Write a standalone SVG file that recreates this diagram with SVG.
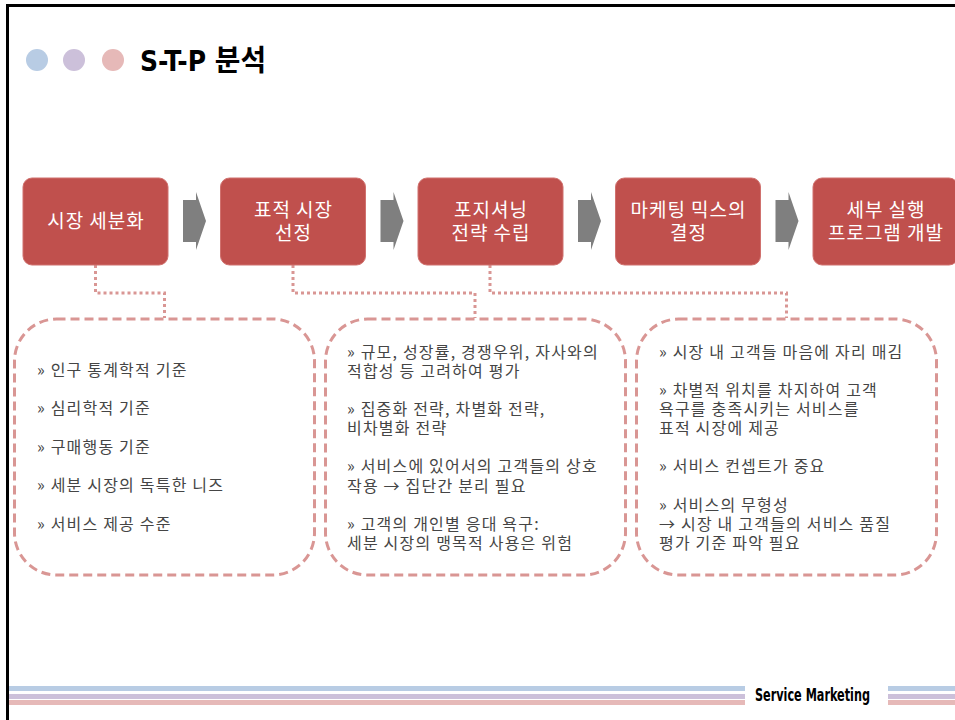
<svg xmlns="http://www.w3.org/2000/svg" width="955" height="720" viewBox="0 0 955 720">
<style>
.step{fill:#c0504d;stroke:#d0716e;stroke-width:1}
.st{font-family:"Noto Sans CJK KR","Noto Sans",sans-serif;font-size:19px;letter-spacing:1px;fill:#ffffff;text-anchor:middle}
.arr{fill:#7f7f7f}
.dbox{fill:none;stroke:#d99694;stroke-width:3;stroke-dasharray:9 5}
.dot{fill:none;stroke:#d99694;stroke-width:3;stroke-dasharray:3 3}
.bt{font-family:"Noto Sans CJK KR","Noto Sans",sans-serif;font-size:16px;letter-spacing:1.2px;fill:#454545}
</style>
<rect x="0" y="0" width="955" height="720" fill="#ffffff"/>
<g id="frame">
<rect x="6" y="4" width="949" height="3" fill="#000"/>
<rect x="6" y="4" width="3" height="716" fill="#000"/>
</g>
<g id="header">
<circle cx="37" cy="60" r="11" fill="#b8cce4"/>
<circle cx="74" cy="60" r="11" fill="#ccc0da"/>
<circle cx="113" cy="60" r="11" fill="#e6b9b8"/>
<text x="140" y="71" font-family="'DejaVu Sans Condensed','Noto Sans CJK KR',sans-serif" font-weight="bold" font-size="29" fill="#000" textLength="126" lengthAdjust="spacingAndGlyphs">S-T-P 분석</text>
</g>
<g id="footer">
<rect x="9" y="686" width="736" height="5" fill="#b8cce4"/>
<rect x="9" y="694" width="736" height="5" fill="#ccc0da"/>
<rect x="9" y="700" width="736" height="5" fill="#e6b9b8"/>
<rect x="888" y="686" width="67" height="5" fill="#b8cce4"/>
<rect x="888" y="694" width="67" height="5" fill="#ccc0da"/>
<rect x="888" y="700" width="67" height="5" fill="#e6b9b8"/>
<text x="755" y="701" font-family="'DejaVu Sans Condensed',sans-serif" font-weight="bold" font-size="17" fill="#000" textLength="115" lengthAdjust="spacingAndGlyphs">Service Marketing</text>
</g>
<g id="connectors">
<polygon class="arr" points="183,200 196,200 196,192 206,221 196,250 196,242 183,242"/>
<polygon class="arr" points="380.5,200 393.5,200 393.5,192 403.5,221 393.5,250 393.5,242 380.5,242"/>
<polygon class="arr" points="578,200 591,200 591,192 601,221 591,250 591,242 578,242"/>
<polygon class="arr" points="775.5,200 788.5,200 788.5,192 798.5,221 788.5,250 788.5,242 775.5,242"/>
<polyline class="dot" points="95.5,265 95.5,293 164.5,293 164.5,318"/>
<polyline class="dot" points="293,265 293,293 475,293 475,318"/>
<polyline class="dot" points="490,265 490,293 786.5,293 786.5,318"/>
</g>
<g id="step1">
<rect class="step" x="23" y="178" width="145" height="87" rx="9"/>
<text class="st" x="96" y="228">시장 세분화</text>
</g>
<g id="step2">
<rect class="step" x="220.5" y="178" width="145" height="87" rx="9"/>
<text class="st"><tspan x="293.5" y="217">표적 시장</tspan><tspan x="293.5" y="240">선정</tspan></text>
</g>
<g id="step3">
<rect class="step" x="418" y="178" width="145" height="87" rx="9"/>
<text class="st"><tspan x="491" y="217">포지셔닝</tspan><tspan x="491" y="240">전략 수립</tspan></text>
</g>
<g id="step4">
<rect class="step" x="615.5" y="178" width="145" height="87" rx="9"/>
<text class="st"><tspan x="688.5" y="217">마케팅 믹스의</tspan><tspan x="688.5" y="240">결정</tspan></text>
</g>
<g id="step5">
<rect class="step" x="813" y="178" width="145" height="87" rx="9"/>
<text class="st"><tspan x="886" y="217">세부 실행</tspan><tspan x="886" y="240">프로그램 개발</tspan></text>
</g>
<g id="detail1">
<rect class="dbox" x="14.5" y="319" width="300" height="256" rx="42"/>
<text class="bt" x="37" y="376">» 인구 통계학적 기준</text>
<text class="bt" x="37" y="414">» 심리학적 기준</text>
<text class="bt" x="37" y="453">» 구매행동 기준</text>
<text class="bt" x="37" y="491">» 세분 시장의 독특한 니즈</text>
<text class="bt" x="37" y="530">» 서비스 제공 수준</text>
</g>
<g id="detail2">
<rect class="dbox" x="325.5" y="319" width="300" height="256" rx="42"/>
<text class="bt"><tspan x="347" y="358">» 규모, 성장률, 경쟁우위, 자사와의</tspan><tspan x="347" y="377">적합성 등 고려하여 평가</tspan></text>
<text class="bt"><tspan x="347" y="415">» 집중화 전략, 차별화 전략,</tspan><tspan x="347" y="434">비차별화 전략</tspan></text>
<text class="bt"><tspan x="347" y="472">» 서비스에 있어서의 고객들의 상호</tspan><tspan x="347" y="492">작용 → 집단간 분리 필요</tspan></text>
<text class="bt"><tspan x="347" y="530">» 고객의 개인별 응대 욕구:</tspan><tspan x="347" y="549">세분 시장의 맹목적 사용은 위험</tspan></text>
</g>
<g id="detail3">
<rect class="dbox" x="636.5" y="319" width="300" height="256" rx="42"/>
<text class="bt" x="659" y="358">» 시장 내 고객들 마음에 자리 매김</text>
<text class="bt"><tspan x="659" y="396">» 차별적 위치를 차지하여 고객</tspan><tspan x="659" y="415">욕구를 충족시키는 서비스를</tspan><tspan x="659" y="434">표적 시장에 제공</tspan></text>
<text class="bt" x="659" y="472">» 서비스 컨셉트가 중요</text>
<text class="bt"><tspan x="659" y="511">» 서비스의 무형성</tspan><tspan x="659" y="530">→ 시장 내 고객들의 서비스 품질</tspan><tspan x="659" y="549">평가 기준 파악 필요</tspan></text>
</g>
</svg>
